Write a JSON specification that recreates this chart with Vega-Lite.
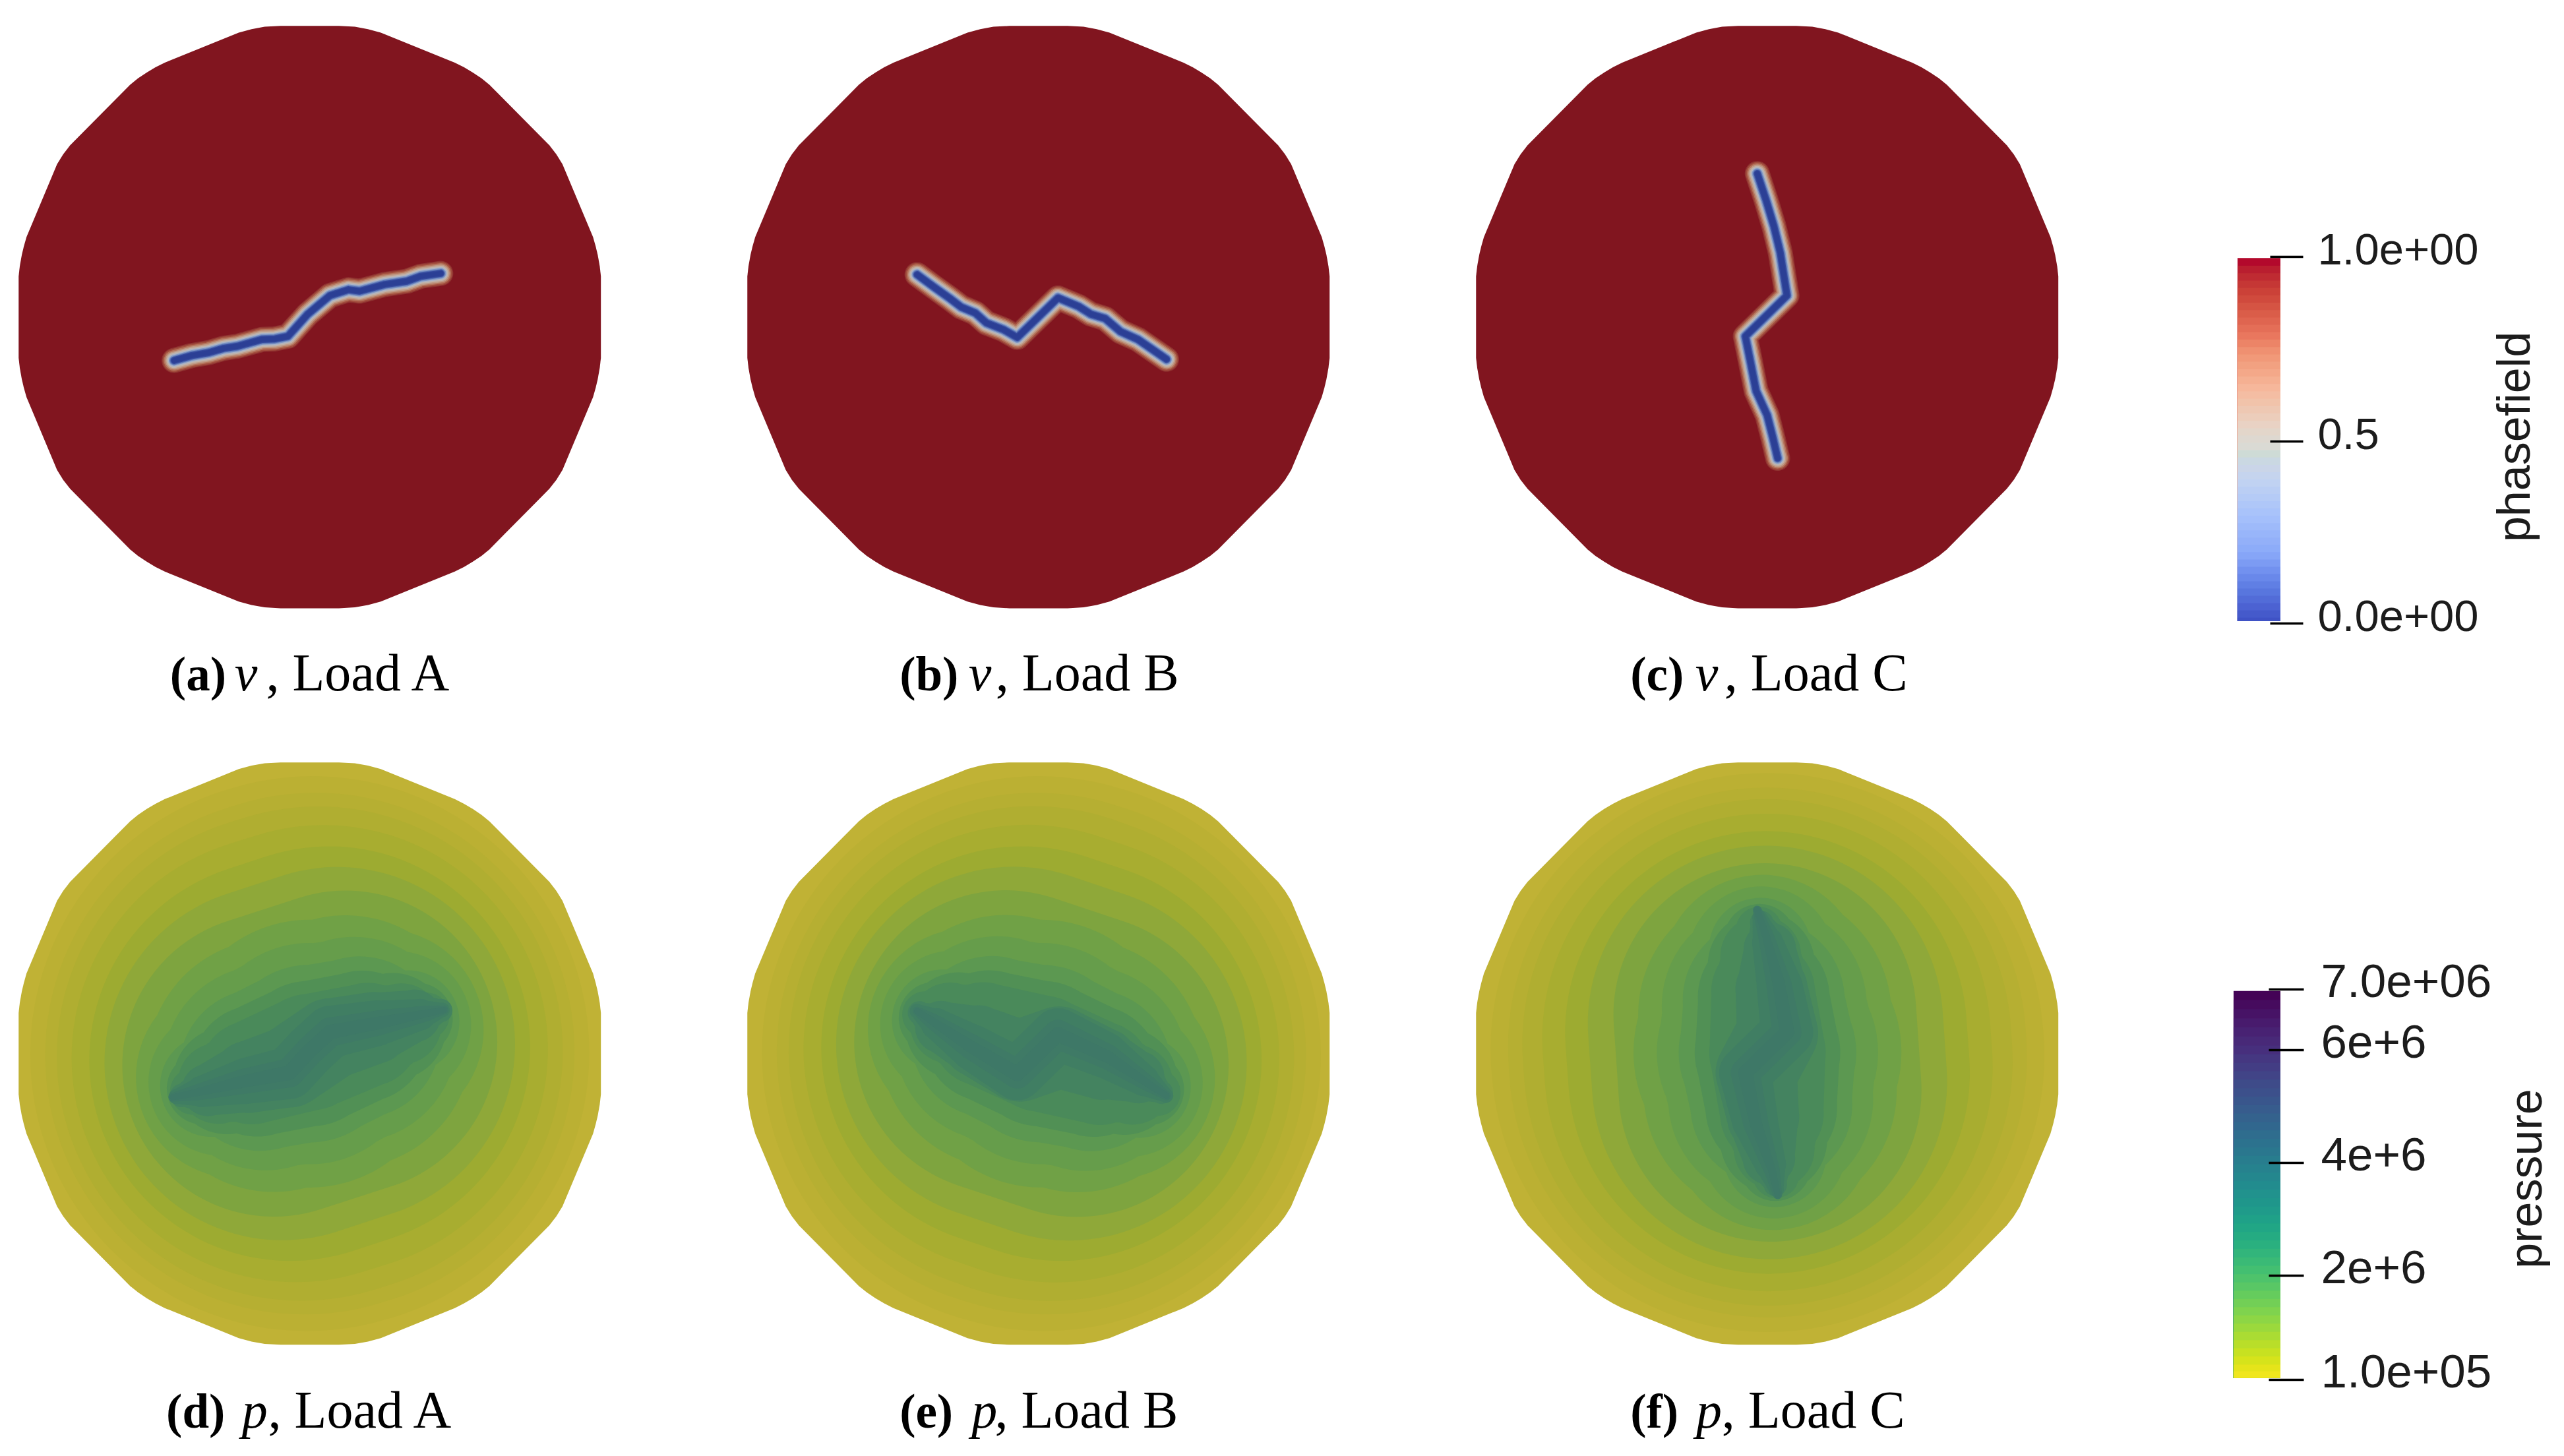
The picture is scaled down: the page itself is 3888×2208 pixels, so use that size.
{
"$schema":"https://vega.github.io/schema/vega-lite/v6.json",
"padding":0,
"background":"white",
"config":{"view":{"stroke":null}},
"datasets":{
"disc":[
{"x":-100,"top":14,"bot":-14},{"x":-99.6,"top":17.5,"bot":-17.5},{"x":-98.9,"top":21.4,"bot":-21.4},{"x":-98.2,"top":24.3,"bot":-24.3},{"x":-97.3,"top":27.5,"bot":-27.5},{"x":-86.8,"top":52.5,"bot":-52.5},{"x":-84.7,"top":55.9,"bot":-55.9},{"x":-82.3,"top":59,"bot":-59},{"x":-61.7,"top":79.8,"bot":-79.8},{"x":-59,"top":82,"bot":-82},{"x":-56,"top":84,"bot":-84},{"x":-53,"top":85.8,"bot":-85.8},{"x":-49.8,"top":87.4,"bot":-87.4},{"x":-24.4,"top":97.7,"bot":-97.7},{"x":-20,"top":98.9,"bot":-98.9},{"x":-15.5,"top":99.7,"bot":-99.7},{"x":-10,"top":100,"bot":-100},
{"x":10,"top":100,"bot":-100},{"x":15.5,"top":99.7,"bot":-99.7},{"x":20,"top":98.9,"bot":-98.9},{"x":24.4,"top":97.7,"bot":-97.7},{"x":49.8,"top":87.4,"bot":-87.4},{"x":53,"top":85.8,"bot":-85.8},{"x":56,"top":84,"bot":-84},{"x":59,"top":82,"bot":-82},{"x":61.7,"top":79.8,"bot":-79.8},{"x":82.3,"top":59,"bot":-59},{"x":84.7,"top":55.9,"bot":-55.9},{"x":86.8,"top":52.5,"bot":-52.5},{"x":97.3,"top":27.5,"bot":-27.5},{"x":98.2,"top":24.3,"bot":-24.3},{"x":98.9,"top":21.4,"bot":-21.4},{"x":99.6,"top":17.5,"bot":-17.5},{"x":100,"top":14,"bot":-14}
],
"top":[
{"panel":"a","i":0,"x":-46.6,"y":-14.9},{"panel":"a","i":1,"x":-40.5,"y":-13.2},{"panel":"a","i":2,"x":-34.7,"y":-12.2},{"panel":"a","i":3,"x":-29.5,"y":-10.7},{"panel":"a","i":4,"x":-24.8,"y":-10},{"panel":"a","i":5,"x":-16.5,"y":-7.7},{"panel":"a","i":6,"x":-12,"y":-7.5},{"panel":"a","i":7,"x":-7.5,"y":-6.6},{"panel":"a","i":8,"x":-0.7,"y":1},{"panel":"a","i":9,"x":6.9,"y":7.4},{"panel":"a","i":10,"x":13.3,"y":9.4},{"panel":"a","i":11,"x":17.1,"y":8.9},{"panel":"a","i":12,"x":25.7,"y":11.2},{"panel":"a","i":13,"x":33.3,"y":12.3},{"panel":"a","i":14,"x":38,"y":14},{"panel":"a","i":15,"x":45,"y":15},
{"panel":"b","i":0,"x":-41.7,"y":14.6},{"panel":"b","i":1,"x":-36,"y":10.4},{"panel":"b","i":2,"x":-30.7,"y":6.6},{"panel":"b","i":3,"x":-26.5,"y":3.4},{"panel":"b","i":4,"x":-21.7,"y":1.4},{"panel":"b","i":5,"x":-17.9,"y":-2},{"panel":"b","i":6,"x":-12,"y":-4.3},{"panel":"b","i":7,"x":-7.3,"y":-7},{"panel":"b","i":8,"x":6.7,"y":6.6},{"panel":"b","i":9,"x":13.9,"y":3.6},{"panel":"b","i":10,"x":18,"y":1},{"panel":"b","i":11,"x":22.9,"y":-0.5},{"panel":"b","i":12,"x":28.2,"y":-5},{"panel":"b","i":13,"x":34.2,"y":-7.7},{"panel":"b","i":14,"x":44,"y":-14.5},
{"panel":"c","i":0,"x":-3.4,"y":49.3},{"panel":"c","i":1,"x":-0.4,"y":40.2},{"panel":"c","i":2,"x":2.3,"y":31.2},{"panel":"c","i":3,"x":4.5,"y":22.1},{"panel":"c","i":4,"x":6.8,"y":7.4},{"panel":"c","i":5,"x":-7.5,"y":-6.6},{"panel":"c","i":6,"x":-5.7,"y":-15.6},{"panel":"c","i":7,"x":-3.8,"y":-25.4},{"panel":"c","i":8,"x":0,"y":-33.7},{"panel":"c","i":9,"x":1.9,"y":-41.2},{"panel":"c","i":10,"x":3.6,"y":-48.5},
{"panel":"a","part":"bold","x":-48,"y":-128.2,"text":"(a)"},{"panel":"a","part":"italic","x":-25.8,"y":-128.2,"text":"ν"},{"panel":"a","part":"regular","x":-15,"y":-128.2,"text":", Load A"},
{"panel":"b","part":"bold","x":-47.7,"y":-128.2,"text":"(b)"},{"panel":"b","part":"italic","x":-24,"y":-128.2,"text":"ν"},{"panel":"b","part":"regular","x":-14.7,"y":-128.2,"text":", Load B"},
{"panel":"c","part":"bold","x":-47,"y":-128.2,"text":"(c)"},{"panel":"c","part":"italic","x":-24.7,"y":-128.2,"text":"ν"},{"panel":"c","part":"regular","x":-14.7,"y":-128.2,"text":", Load C"}
],
"bottom":[
{"panel":"d","p":800000,"i":0,"x":-1,"y":-0.3,"w":95},{"panel":"d","p":800000,"i":1,"x":1,"y":0.3,"w":95},
{"panel":"d","p":1000000,"i":0,"x":-1.9,"y":-0.6,"w":89},{"panel":"d","p":1000000,"i":1,"x":1.9,"y":0.6,"w":89},
{"panel":"d","p":1200000,"i":0,"x":-2.9,"y":-0.9,"w":84},{"panel":"d","p":1200000,"i":1,"x":2.9,"y":0.9,"w":84},
{"panel":"d","p":1400000,"i":0,"x":-4.8,"y":-1.5,"w":77},{"panel":"d","p":1400000,"i":1,"x":4.8,"y":1.5,"w":77},
{"panel":"d","p":1600000,"i":0,"x":-6.7,"y":-2.2,"w":69},{"panel":"d","p":1600000,"i":1,"x":6.7,"y":2.2,"w":69},
{"panel":"d","p":1800000,"i":0,"x":-9.5,"y":-3.1,"w":61},{"panel":"d","p":1800000,"i":1,"x":9.5,"y":3.1,"w":61},
{"panel":"d","p":2000000,"i":0,"x":-12.4,"y":-4,"w":52},{"panel":"d","p":2000000,"i":1,"x":12.4,"y":4,"w":52},
{"panel":"d","p":2200000,"i":0,"x":-25,"y":-8.1,"w":34.7},{"panel":"d","p":2200000,"i":1,"x":-12.4,"y":-4,"w":43.5},{"panel":"d","p":2200000,"i":2,"x":0,"y":0,"w":46},{"panel":"d","p":2200000,"i":3,"x":12.4,"y":4,"w":43.5},{"panel":"d","p":2200000,"i":4,"x":25,"y":8.1,"w":34.7},
{"panel":"d","p":2400000,"i":0,"x":-30.1,"y":-9.8,"w":25.3},{"panel":"d","p":2400000,"i":1,"x":-15.2,"y":-4.9,"w":35.2},{"panel":"d","p":2400000,"i":2,"x":0,"y":0,"w":38},{"panel":"d","p":2400000,"i":3,"x":15.2,"y":4.9,"w":35.2},{"panel":"d","p":2400000,"i":4,"x":30.1,"y":9.8,"w":25.3},
{"panel":"d","p":2600000,"i":0,"x":-33.8,"y":-11,"w":17.6},{"panel":"d","p":2600000,"i":1,"x":-17.1,"y":-5.6,"w":27.8},{"panel":"d","p":2600000,"i":2,"x":0,"y":0,"w":30.5},{"panel":"d","p":2600000,"i":3,"x":17.1,"y":5.6,"w":27.8},{"panel":"d","p":2600000,"i":4,"x":33.8,"y":11,"w":17.6},
{"panel":"d","p":2800000,"i":0,"x":-36.8,"y":-12,"w":12.3},{"panel":"d","p":2800000,"i":1,"x":-28.5,"y":-9.3,"w":18.4},{"panel":"d","p":2800000,"i":2,"x":-18.1,"y":-5.9,"w":22.6},{"panel":"d","p":2800000,"i":3,"x":0,"y":0,"w":25},{"panel":"d","p":2800000,"i":4,"x":18.1,"y":5.9,"w":22.6},{"panel":"d","p":2800000,"i":5,"x":28.5,"y":9.3,"w":18.4},{"panel":"d","p":2800000,"i":6,"x":36.8,"y":12,"w":12.3},
{"panel":"d","p":3000000,"i":0,"x":-40,"y":-13,"w":8},{"panel":"d","p":3000000,"i":1,"x":-31.4,"y":-10.2,"w":13.9},{"panel":"d","p":3000000,"i":2,"x":-20,"y":-6.5,"w":17.8},{"panel":"d","p":3000000,"i":3,"x":0,"y":0.5,"w":20},{"panel":"d","p":3000000,"i":4,"x":20,"y":6.5,"w":17.8},{"panel":"d","p":3000000,"i":5,"x":31.4,"y":10.2,"w":13.9},{"panel":"d","p":3000000,"i":6,"x":40,"y":13,"w":8},
{"panel":"d","p":3200000,"i":0,"x":-44,"y":-14.4,"w":4},{"panel":"d","p":3200000,"i":1,"x":-35,"y":-12.5,"w":9},{"panel":"d","p":3200000,"i":2,"x":-21,"y":-8,"w":12.4},{"panel":"d","p":3200000,"i":3,"x":-7,"y":-4.5,"w":14},{"panel":"d","p":3200000,"i":4,"x":7,"y":5,"w":14},{"panel":"d","p":3200000,"i":5,"x":22,"y":8.8,"w":12.4},{"panel":"d","p":3200000,"i":6,"x":36,"y":13,"w":9},{"panel":"d","p":3200000,"i":7,"x":45,"y":14.8,"w":4},
{"panel":"d","p":3400000,"i":0,"x":-46,"y":-14.8,"w":2.5},{"panel":"d","p":3400000,"i":1,"x":-37,"y":-13,"w":5.4},{"panel":"d","p":3400000,"i":2,"x":-22,"y":-9.4,"w":7.9},{"panel":"d","p":3400000,"i":3,"x":-7,"y":-6.6,"w":9},{"panel":"d","p":3400000,"i":4,"x":0,"y":1,"w":9},{"panel":"d","p":3400000,"i":5,"x":7,"y":7.4,"w":9},{"panel":"d","p":3400000,"i":6,"x":23,"y":10.4,"w":7.9},{"panel":"d","p":3400000,"i":7,"x":38,"y":13.4,"w":5.4},{"panel":"d","p":3400000,"i":8,"x":45.5,"y":15,"w":2.5},
{"panel":"d","p":3600000,"i":0,"x":-47,"y":-15,"w":1.5},{"panel":"d","p":3600000,"i":1,"x":-39,"y":-13.4,"w":2.7},{"panel":"d","p":3600000,"i":2,"x":-23,"y":-9.6,"w":4.3},{"panel":"d","p":3600000,"i":3,"x":-7,"y":-6.6,"w":5},{"panel":"d","p":3600000,"i":4,"x":0,"y":1,"w":5},{"panel":"d","p":3600000,"i":5,"x":7,"y":7.4,"w":5},{"panel":"d","p":3600000,"i":6,"x":24,"y":10.6,"w":4.3},{"panel":"d","p":3600000,"i":7,"x":40,"y":13.8,"w":2.7},{"panel":"d","p":3600000,"i":8,"x":46,"y":15,"w":1.5},
{"panel":"d","p":3800000,"i":0,"x":-47,"y":-15,"w":1},{"panel":"d","p":3800000,"i":1,"x":-39,"y":-13.4,"w":1.3},{"panel":"d","p":3800000,"i":2,"x":-23,"y":-9.6,"w":2.1},{"panel":"d","p":3800000,"i":3,"x":-7,"y":-6.6,"w":2.5},{"panel":"d","p":3800000,"i":4,"x":0,"y":1,"w":2.5},{"panel":"d","p":3800000,"i":5,"x":7,"y":7.4,"w":2.5},{"panel":"d","p":3800000,"i":6,"x":24,"y":10.6,"w":2.1},{"panel":"d","p":3800000,"i":7,"x":40,"y":13.8,"w":1.3},{"panel":"d","p":3800000,"i":8,"x":46,"y":15,"w":1},
{"panel":"e","p":800000,"i":0,"x":0,"y":0.3,"w":95},{"panel":"e","p":800000,"i":1,"x":2,"y":-0.3,"w":95},
{"panel":"e","p":1000000,"i":0,"x":-0.9,"y":0.6,"w":89},{"panel":"e","p":1000000,"i":1,"x":2.9,"y":-0.6,"w":89},
{"panel":"e","p":1200000,"i":0,"x":-1.8,"y":1,"w":84},{"panel":"e","p":1200000,"i":1,"x":3.8,"y":-1,"w":84},
{"panel":"e","p":1400000,"i":0,"x":-3.7,"y":1.6,"w":77},{"panel":"e","p":1400000,"i":1,"x":5.7,"y":-1.6,"w":77},
{"panel":"e","p":1600000,"i":0,"x":-5.6,"y":2.2,"w":69},{"panel":"e","p":1600000,"i":1,"x":7.6,"y":-2.2,"w":69},
{"panel":"e","p":1800000,"i":0,"x":-8.5,"y":3.2,"w":61},{"panel":"e","p":1800000,"i":1,"x":10.5,"y":-3.2,"w":61},
{"panel":"e","p":2000000,"i":0,"x":-11.3,"y":4.1,"w":52},{"panel":"e","p":2000000,"i":1,"x":13.3,"y":-4.1,"w":52},
{"panel":"e","p":2200000,"i":0,"x":-23.9,"y":8.4,"w":34.7},{"panel":"e","p":2200000,"i":1,"x":-11.3,"y":4.1,"w":43.5},{"panel":"e","p":2200000,"i":2,"x":1,"y":0,"w":46},{"panel":"e","p":2200000,"i":3,"x":13.3,"y":-4.1,"w":43.5},{"panel":"e","p":2200000,"i":4,"x":25.9,"y":-8.4,"w":34.7},
{"panel":"e","p":2400000,"i":0,"x":-29.1,"y":10.1,"w":25.3},{"panel":"e","p":2400000,"i":1,"x":-14.2,"y":5.1,"w":35.2},{"panel":"e","p":2400000,"i":2,"x":1,"y":0,"w":38},{"panel":"e","p":2400000,"i":3,"x":16.2,"y":-5.1,"w":35.2},{"panel":"e","p":2400000,"i":4,"x":31.1,"y":-10.1,"w":25.3},
{"panel":"e","p":2600000,"i":0,"x":-32.7,"y":11.3,"w":17.6},{"panel":"e","p":2600000,"i":1,"x":-16.1,"y":5.7,"w":27.8},{"panel":"e","p":2600000,"i":2,"x":1,"y":0,"w":30.5},{"panel":"e","p":2600000,"i":3,"x":18.1,"y":-5.7,"w":27.8},{"panel":"e","p":2600000,"i":4,"x":34.7,"y":-11.3,"w":17.6},
{"panel":"e","p":2800000,"i":0,"x":-35.7,"y":12.3,"w":12.3},{"panel":"e","p":2800000,"i":1,"x":-27.4,"y":9.5,"w":18.4},{"panel":"e","p":2800000,"i":2,"x":-17,"y":6,"w":22.6},{"panel":"e","p":2800000,"i":3,"x":1,"y":0,"w":25},{"panel":"e","p":2800000,"i":4,"x":19,"y":-6,"w":22.6},{"panel":"e","p":2800000,"i":5,"x":29.4,"y":-9.5,"w":18.4},{"panel":"e","p":2800000,"i":6,"x":37.7,"y":-12.3,"w":12.3},
{"panel":"e","p":3000000,"i":0,"x":-38.8,"y":13.4,"w":8},{"panel":"e","p":3000000,"i":1,"x":-30.3,"y":10.5,"w":13.9},{"panel":"e","p":3000000,"i":2,"x":-19,"y":6.7,"w":17.8},{"panel":"e","p":3000000,"i":3,"x":1,"y":0,"w":20},{"panel":"e","p":3000000,"i":4,"x":21,"y":-6.7,"w":17.8},{"panel":"e","p":3000000,"i":5,"x":32.3,"y":-10.5,"w":13.9},{"panel":"e","p":3000000,"i":6,"x":40.8,"y":-13.4,"w":8},
{"panel":"e","p":3200000,"i":0,"x":-40.9,"y":14,"w":4},{"panel":"e","p":3200000,"i":1,"x":-33.4,"y":9.1,"w":9},{"panel":"e","p":3200000,"i":2,"x":-20.8,"y":4.2,"w":12.4},{"panel":"e","p":3200000,"i":3,"x":-6.5,"y":-2.5,"w":14},{"panel":"e","p":3200000,"i":4,"x":7,"y":2.2,"w":14},{"panel":"e","p":3200000,"i":5,"x":21.9,"y":-3.5,"w":12.4},{"panel":"e","p":3200000,"i":6,"x":34.3,"y":-8.1,"w":9},{"panel":"e","p":3200000,"i":7,"x":42.2,"y":-13.3,"w":4},
{"panel":"e","p":3400000,"i":0,"x":-41.7,"y":14.6,"w":2.5},{"panel":"e","p":3400000,"i":1,"x":-35,"y":10.2,"w":5.4},{"panel":"e","p":3400000,"i":2,"x":-22.5,"y":2,"w":7.9},{"panel":"e","p":3400000,"i":3,"x":-7.3,"y":-7,"w":9},{"panel":"e","p":3400000,"i":4,"x":6.7,"y":6.6,"w":9},{"panel":"e","p":3400000,"i":5,"x":22.9,"y":-0.5,"w":7.9},{"panel":"e","p":3400000,"i":6,"x":36.1,"y":-9.2,"w":5.4},{"panel":"e","p":3400000,"i":7,"x":43.8,"y":-14.4,"w":2.5},
{"panel":"e","p":3600000,"i":0,"x":-41.7,"y":14.6,"w":1.5},{"panel":"e","p":3600000,"i":1,"x":-36.7,"y":11.3,"w":2.7},{"panel":"e","p":3600000,"i":2,"x":-23.4,"y":2.5,"w":4.3},{"panel":"e","p":3600000,"i":3,"x":-7.3,"y":-7,"w":5},{"panel":"e","p":3600000,"i":4,"x":6.7,"y":6.6,"w":5},{"panel":"e","p":3600000,"i":5,"x":23.8,"y":-1.1,"w":4.3},{"panel":"e","p":3600000,"i":6,"x":37.8,"y":-10.4,"w":2.7},{"panel":"e","p":3600000,"i":7,"x":44,"y":-14.5,"w":1.5},
{"panel":"e","p":3800000,"i":0,"x":-41.7,"y":14.6,"w":1},{"panel":"e","p":3800000,"i":1,"x":-36.7,"y":11.3,"w":1.3},{"panel":"e","p":3800000,"i":2,"x":-23.4,"y":2.5,"w":2.1},{"panel":"e","p":3800000,"i":3,"x":-7.3,"y":-7,"w":2.5},{"panel":"e","p":3800000,"i":4,"x":6.7,"y":6.6,"w":2.5},{"panel":"e","p":3800000,"i":5,"x":23.8,"y":-1.1,"w":2.1},{"panel":"e","p":3800000,"i":6,"x":37.8,"y":-10.4,"w":1.3},{"panel":"e","p":3800000,"i":7,"x":44,"y":-14.5,"w":1},
{"panel":"f","p":800000,"i":0,"x":0,"y":1.4,"w":95},{"panel":"f","p":800000,"i":1,"x":0.2,"y":-0.6,"w":95},
{"panel":"f","p":1000000,"i":0,"x":0,"y":2.4,"w":89},{"panel":"f","p":1000000,"i":1,"x":0.2,"y":-1.6,"w":89},
{"panel":"f","p":1200000,"i":0,"x":-0.1,"y":3.4,"w":84},{"panel":"f","p":1200000,"i":1,"x":0.3,"y":-2.6,"w":84},
{"panel":"f","p":1400000,"i":0,"x":-0.25,"y":5.4,"w":77},{"panel":"f","p":1400000,"i":1,"x":0.45,"y":-4.6,"w":77},
{"panel":"f","p":1600000,"i":0,"x":-0.4,"y":7.4,"w":69},{"panel":"f","p":1600000,"i":1,"x":0.6,"y":-6.6,"w":69},
{"panel":"f","p":1800000,"i":0,"x":-0.6,"y":10.4,"w":61},{"panel":"f","p":1800000,"i":1,"x":0.8,"y":-9.6,"w":61},
{"panel":"f","p":2000000,"i":0,"x":-0.8,"y":13.4,"w":52},{"panel":"f","p":2000000,"i":1,"x":1,"y":-12.6,"w":52},
{"panel":"f","p":2200000,"i":0,"x":-1.7,"y":26.7,"w":34.7},{"panel":"f","p":2200000,"i":1,"x":-0.8,"y":13.4,"w":43.5},{"panel":"f","p":2200000,"i":2,"x":0.1,"y":0.4,"w":46},{"panel":"f","p":2200000,"i":3,"x":1,"y":-12.6,"w":43.5},{"panel":"f","p":2200000,"i":4,"x":1.9,"y":-25.9,"w":34.7},
{"panel":"f","p":2400000,"i":0,"x":-2.1,"y":32.1,"w":25.3},{"panel":"f","p":2400000,"i":1,"x":-1,"y":16.4,"w":35.2},{"panel":"f","p":2400000,"i":2,"x":0.1,"y":0.4,"w":38},{"panel":"f","p":2400000,"i":3,"x":1.2,"y":-15.6,"w":35.2},{"panel":"f","p":2400000,"i":4,"x":2.3,"y":-31.3,"w":25.3},
{"panel":"f","p":2600000,"i":0,"x":-2.4,"y":35.9,"w":17.6},{"panel":"f","p":2600000,"i":1,"x":-1.2,"y":18.4,"w":27.8},{"panel":"f","p":2600000,"i":2,"x":0.1,"y":0.4,"w":30.5},{"panel":"f","p":2600000,"i":3,"x":1.4,"y":-17.6,"w":27.8},{"panel":"f","p":2600000,"i":4,"x":2.6,"y":-35.1,"w":17.6},
{"panel":"f","p":2800000,"i":0,"x":-2.6,"y":39.1,"w":12.3},{"panel":"f","p":2800000,"i":1,"x":-2,"y":30.4,"w":18.4},{"panel":"f","p":2800000,"i":2,"x":-1.2,"y":19.4,"w":22.6},{"panel":"f","p":2800000,"i":3,"x":0.1,"y":0.4,"w":25},{"panel":"f","p":2800000,"i":4,"x":1.4,"y":-18.6,"w":22.6},{"panel":"f","p":2800000,"i":5,"x":2.2,"y":-29.6,"w":18.4},{"panel":"f","p":2800000,"i":6,"x":2.8,"y":-38.3,"w":12.3},
{"panel":"f","p":3000000,"i":0,"x":-2.8,"y":42.4,"w":8},{"panel":"f","p":3000000,"i":1,"x":-2.2,"y":33.4,"w":13.9},{"panel":"f","p":3000000,"i":2,"x":-1.4,"y":21.4,"w":17.8},{"panel":"f","p":3000000,"i":3,"x":0.1,"y":0.4,"w":20},{"panel":"f","p":3000000,"i":4,"x":1.6,"y":-20.6,"w":17.8},{"panel":"f","p":3000000,"i":5,"x":2.4,"y":-32.6,"w":13.9},{"panel":"f","p":3000000,"i":6,"x":3,"y":-41.6,"w":8},
{"panel":"f","p":3200000,"i":0,"x":-1.9,"y":45,"w":4},{"panel":"f","p":3200000,"i":1,"x":0.9,"y":36,"w":9},{"panel":"f","p":3200000,"i":2,"x":1.5,"y":22.2,"w":12.4},{"panel":"f","p":3200000,"i":3,"x":3.5,"y":7,"w":14},{"panel":"f","p":3200000,"i":4,"x":-3.7,"y":-6.5,"w":14},{"panel":"f","p":3200000,"i":5,"x":-1.4,"y":-21.8,"w":12.4},{"panel":"f","p":3200000,"i":6,"x":0.6,"y":-36,"w":9},{"panel":"f","p":3200000,"i":7,"x":2.8,"y":-45,"w":4},
{"panel":"f","p":3400000,"i":0,"x":-2.6,"y":46.8,"w":2.5},{"panel":"f","p":3400000,"i":1,"x":0.2,"y":38,"w":5.4},{"panel":"f","p":3400000,"i":2,"x":4.3,"y":23,"w":7.9},{"panel":"f","p":3400000,"i":3,"x":6.8,"y":7.4,"w":9},{"panel":"f","p":3400000,"i":4,"x":-7.5,"y":-6.6,"w":9},{"panel":"f","p":3400000,"i":5,"x":-4.2,"y":-23,"w":7.9},{"panel":"f","p":3400000,"i":6,"x":1.1,"y":-38,"w":5.4},{"panel":"f","p":3400000,"i":7,"x":3.2,"y":-46.8,"w":2.5},
{"panel":"f","p":3600000,"i":0,"x":-3.4,"y":49.3,"w":1.5},{"panel":"f","p":3600000,"i":1,"x":-0.3,"y":40,"w":2.7},{"panel":"f","p":3600000,"i":2,"x":4,"y":24,"w":4.3},{"panel":"f","p":3600000,"i":3,"x":6.8,"y":7.4,"w":5},{"panel":"f","p":3600000,"i":4,"x":-7.5,"y":-6.6,"w":5},{"panel":"f","p":3600000,"i":5,"x":-3.9,"y":-24,"w":4.3},{"panel":"f","p":3600000,"i":6,"x":1.6,"y":-40,"w":2.7},{"panel":"f","p":3600000,"i":7,"x":3.6,"y":-48.5,"w":1.5},
{"panel":"f","p":3800000,"i":0,"x":-3.4,"y":49.3,"w":1},{"panel":"f","p":3800000,"i":1,"x":-0.3,"y":40,"w":1.3},{"panel":"f","p":3800000,"i":2,"x":4,"y":24,"w":2.1},{"panel":"f","p":3800000,"i":3,"x":6.8,"y":7.4,"w":2.5},{"panel":"f","p":3800000,"i":4,"x":-7.5,"y":-6.6,"w":2.5},{"panel":"f","p":3800000,"i":5,"x":-3.9,"y":-24,"w":2.1},{"panel":"f","p":3800000,"i":6,"x":1.6,"y":-40,"w":1.3},{"panel":"f","p":3800000,"i":7,"x":3.6,"y":-48.5,"w":1},
{"panel":"d","part":"bold","x":-49.3,"y":-128.5,"text":"(d)"},{"panel":"d","part":"italic","x":-23.3,"y":-128.5,"text":"p"},{"panel":"d","part":"regular","x":-14.3,"y":-128.5,"text":", Load A"},
{"panel":"e","part":"bold","x":-47.7,"y":-128.5,"text":"(e)"},{"panel":"e","part":"italic","x":-23,"y":-128.5,"text":"p"},{"panel":"e","part":"regular","x":-15,"y":-128.5,"text":", Load B"},
{"panel":"f","part":"bold","x":-47,"y":-128.5,"text":"(f)"},{"panel":"f","part":"italic","x":-24.4,"y":-128.5,"text":"p"},{"panel":"f","part":"regular","x":-15.6,"y":-128.5,"text":", Load C"}
],
"phase":[
{"v":0.996},{"v":0.975},{"v":0.955},{"v":0.935},{"v":0.915},{"v":0.895},{"v":0.875},{"v":0.855},{"v":0.835},{"v":0.815},{"v":0.795},{"v":0.775},{"v":0.755},{"v":0.735},{"v":0.715},{"v":0.695},{"v":0.675},{"v":0.655},{"v":0.635},{"v":0.615},{"v":0.595},{"v":0.575},{"v":0.555},{"v":0.535},{"v":0.515},{"v":0.495},{"v":0.475},{"v":0.455},{"v":0.435},{"v":0.415},{"v":0.395},{"v":0.375},{"v":0.355},{"v":0.335},{"v":0.315},{"v":0.295},{"v":0.275},{"v":0.255},{"v":0.235},{"v":0.215},{"v":0.195},{"v":0.175},{"v":0.155},{"v":0.135},{"v":0.115},{"v":0.095},{"v":0.075},{"v":0.055},{"v":0.035},{"v":0.015}
],
"press":[
{"v":6970000},{"v":6820000},{"v":6670000},{"v":6520000},{"v":6370000},{"v":6220000},{"v":6070000},{"v":5920000},{"v":5770000},{"v":5620000},{"v":5470000},{"v":5320000},{"v":5170000},{"v":5020000},{"v":4870000},{"v":4720000},{"v":4570000},{"v":4420000},{"v":4270000},{"v":4120000},{"v":3970000},{"v":3820000},{"v":3670000},{"v":3520000},{"v":3370000},{"v":3220000},{"v":3070000},{"v":2920000},{"v":2770000},{"v":2620000},{"v":2470000},{"v":2320000},{"v":2170000},{"v":2020000},{"v":1870000},{"v":1720000},{"v":1570000},{"v":1420000},{"v":1270000},{"v":1120000},{"v":970000},{"v":820000},{"v":670000},{"v":520000},{"v":370000},{"v":250000}
]
},
"spacing":0,
"resolve":{"scale":{"color":"independent","size":"independent"}},
"vconcat":[
{"spacing":0,"resolve":{"scale":{"color":"independent","size":"independent"}},"hconcat":[
{"data":{"name":"top"},
"facet":{"column":{"field":"panel","type":"nominal","header":null}},
"spacing":0,
"spec":{"width":1105,"height":1118,
"encoding":{
"x":{"field":"x","type":"quantitative","scale":{"domain":[-106.4,143.9]},"axis":null},
"y":{"field":"y","type":"quantitative","scale":{"domain":[-144.3,108.9]},"axis":null}},
"layer":[
{"data":{"name":"disc"},"mark":{"type":"area","color":"#81151f"},"encoding":{"y":{"field":"top","type":"quantitative"},"y2":{"field":"bot"}}},
{"transform":[{"filter":"datum.i>=0"}],"mark":{"type":"line","strokeWidth":38,"color":"#8f3230","strokeCap":"round","strokeJoin":"round"},"encoding":{"order":{"field":"i","type":"quantitative"}}},
{"transform":[{"filter":"datum.i>=0"}],"mark":{"type":"line","strokeWidth":35,"color":"#a24d3d","strokeCap":"round","strokeJoin":"round"},"encoding":{"order":{"field":"i","type":"quantitative"}}},
{"transform":[{"filter":"datum.i>=0"}],"mark":{"type":"line","strokeWidth":31,"color":"#b5755c","strokeCap":"round","strokeJoin":"round"},"encoding":{"order":{"field":"i","type":"quantitative"}}},
{"transform":[{"filter":"datum.i>=0"}],"mark":{"type":"line","strokeWidth":27,"color":"#c09a85","strokeCap":"round","strokeJoin":"round"},"encoding":{"order":{"field":"i","type":"quantitative"}}},
{"transform":[{"filter":"datum.i>=0"}],"mark":{"type":"line","strokeWidth":23,"color":"#c0b3aa","strokeCap":"round","strokeJoin":"round"},"encoding":{"order":{"field":"i","type":"quantitative"}}},
{"transform":[{"filter":"datum.i>=0"}],"mark":{"type":"line","strokeWidth":19,"color":"#aab4c8","strokeCap":"round","strokeJoin":"round"},"encoding":{"order":{"field":"i","type":"quantitative"}}},
{"transform":[{"filter":"datum.i>=0"}],"mark":{"type":"line","strokeWidth":16,"color":"#7f96c4","strokeCap":"round","strokeJoin":"round"},"encoding":{"order":{"field":"i","type":"quantitative"}}},
{"transform":[{"filter":"datum.i>=0"}],"mark":{"type":"line","strokeWidth":13,"color":"#5570b5","strokeCap":"round","strokeJoin":"round"},"encoding":{"order":{"field":"i","type":"quantitative"}}},
{"transform":[{"filter":"datum.i>=0"}],"mark":{"type":"line","strokeWidth":10.5,"color":"#34499d","strokeCap":"round","strokeJoin":"round"},"encoding":{"order":{"field":"i","type":"quantitative"}}},
{"transform":[{"filter":"datum.i>=0"}],"mark":{"type":"line","strokeWidth":7.5,"color":"#2b3f95","strokeCap":"round","strokeJoin":"round"},"encoding":{"order":{"field":"i","type":"quantitative"}}},
{"transform":[{"filter":"datum.part==='bold'"}],"mark":{"type":"text","font":"Liberation Serif","fontSize":73,"fontWeight":"bold","align":"left","baseline":"alphabetic","color":"#000"},"encoding":{"text":{"field":"text"}}},
{"transform":[{"filter":"datum.part==='italic'"}],"mark":{"type":"text","font":"Liberation Serif","fontSize":78,"fontStyle":"italic","align":"left","baseline":"alphabetic","color":"#000"},"encoding":{"text":{"field":"text"}}},
{"transform":[{"filter":"datum.part==='regular'"}],"mark":{"type":"text","font":"Liberation Serif","fontSize":80,"align":"left","baseline":"alphabetic","color":"#000"},"encoding":{"text":{"field":"text"}}}
]}},
{"data":{"name":"phase"},"width":143,"height":1118,
"mark":{"type":"rect"},
"encoding":{
"x":{"datum":0.545,"type":"quantitative","scale":{"domain":[0,1]},"axis":null},
"x2":{"datum":1},
"y":{"field":"v","type":"quantitative","scale":{"domain":[0,0.5,1],"range":[945,669,389]},
"axis":{"values":[0,0.5,1],"orient":"right","offset":-16,"domain":false,"grid":false,"zindex":1,"tickSize":50,"tickWidth":3.5,"tickColor":"#000",
"labelExpr":"datum.value==1?'1.0e+00':datum.value==0?'0.0e+00':'0.5'","labelFont":"Liberation Sans","labelFontSize":67,"labelColor":"#1c1c1c","labelPadding":22,"labelOffset":-9,"labelAlign":"left","labelBaseline":"middle","labelOverlap":false,"labelBound":false,"labelFlush":false,"labelLimit":600,
"title":"phasefield","titleFont":"Liberation Sans","titleFontSize":70,"titleFontWeight":"normal","titleColor":"#1c1c1c","titleAngle":270,"titleX":393,"titleY":662,"titleAlign":"center","titleBaseline":"alphabetic"}},
"y2":{"datum":0.0054},
"color":{"field":"v","type":"quantitative","legend":null,"scale":{"domain":[0,0.05,0.1,0.15,0.2,0.3,0.4,0.45,0.5,0.55,0.65,0.75,0.8,0.9,1],"range":["#3b4cc0","#4a60d0","#5a78e0","#6f8fee","#89a8f8","#a5c0fb","#c2d3f2","#cdd6e4","#dcdad6","#e8d3c6","#f6b99d","#f09373","#e8745c","#cf483b","#b2032b"]}}
}}
]},
{"spacing":0,"resolve":{"scale":{"color":"independent","size":"independent"}},"hconcat":[
{"data":{"name":"bottom"},
"facet":{"column":{"field":"panel","type":"nominal","header":null}},
"spacing":0,
"spec":{"width":1105,"height":1090,
"encoding":{
"x":{"field":"x","type":"quantitative","scale":{"domain":[-106.4,143.9]},"axis":null},
"y":{"field":"y","type":"quantitative","scale":{"domain":[-138.2,108.65]},"axis":null}},
"layer":[
{"data":{"name":"disc"},"mark":{"type":"area","color":"#c0b235"},"encoding":{"y":{"field":"top","type":"quantitative"},"y2":{"field":"bot"}}},
{"transform":[{"filter":"datum.p>0"}],"mark":{"type":"trail"},
"encoding":{
"order":{"field":"i","type":"quantitative"},
"detail":{"field":"p","type":"nominal"},
"color":{"field":"p","type":"quantitative","legend":null,"scale":{"domain":[800000,1000000,1200000,1400000,1600000,1800000,2000000,2200000,2400000,2600000,2800000,3000000,3200000,3400000,3600000,3800000],"range":["#bbb033","#b6af32","#b0ae31","#a8ad30","#9dab31","#8fa839","#7ea43f","#70a146","#669d4b","#5c9851","#519055","#4a8a5a","#448360","#407e63","#3f7a66","#3e7867"]}},
"size":{"field":"w","type":"quantitative","legend":null,"scale":{"domain":[0,100],"range":[0,883]}}
}},
{"transform":[{"filter":"datum.part==='bold'"}],"mark":{"type":"text","font":"Liberation Serif","fontSize":73,"fontWeight":"bold","align":"left","baseline":"alphabetic","color":"#000"},"encoding":{"text":{"field":"text"}}},
{"transform":[{"filter":"datum.part==='italic'"}],"mark":{"type":"text","font":"Liberation Serif","fontSize":78,"fontStyle":"italic","align":"left","baseline":"alphabetic","color":"#000"},"encoding":{"text":{"field":"text"}}},
{"transform":[{"filter":"datum.part==='regular'"}],"mark":{"type":"text","font":"Liberation Serif","fontSize":80,"align":"left","baseline":"alphabetic","color":"#000"},"encoding":{"text":{"field":"text"}}}
]}},
{"data":{"name":"press"},"width":143,"height":1090,
"mark":{"type":"rect"},
"encoding":{
"x":{"datum":0.503,"type":"quantitative","scale":{"domain":[0,1]},"axis":null},
"x2":{"datum":1},
"y":{"field":"v","type":"quantitative","scale":{"domain":[100000,2000000,4000000,6000000,7000000],"range":[974,816,645,474,382]},
"axis":{"values":[100000,2000000,4000000,6000000,7000000],"orient":"right","offset":-18,"domain":false,"grid":false,"zindex":1,"tickSize":53,"tickWidth":3.5,"tickColor":"#000",
"labelExpr":"datum.value==7000000?'7.0e+06':datum.value==100000?'1.0e+05':(datum.value/1000000)+'e+6'","labelFont":"Liberation Sans","labelFontSize":71,"labelColor":"#1c1c1c","labelPadding":26,"labelOffset":-10,"labelAlign":"left","labelBaseline":"middle","labelOverlap":false,"labelBound":false,"labelFlush":false,"labelLimit":600,
"title":"pressure","titleFont":"Liberation Sans","titleFontSize":70,"titleFontWeight":"normal","titleColor":"#1c1c1c","titleAngle":270,"titleX":413,"titleY":669,"titleAlign":"center","titleBaseline":"alphabetic"}},
"y2":{"datum":130000},
"color":{"field":"v","type":"quantitative","legend":null,"scale":{"domain":[100000,7000000],"scheme":"viridis","reverse":true}}
}}
]}
]
}
